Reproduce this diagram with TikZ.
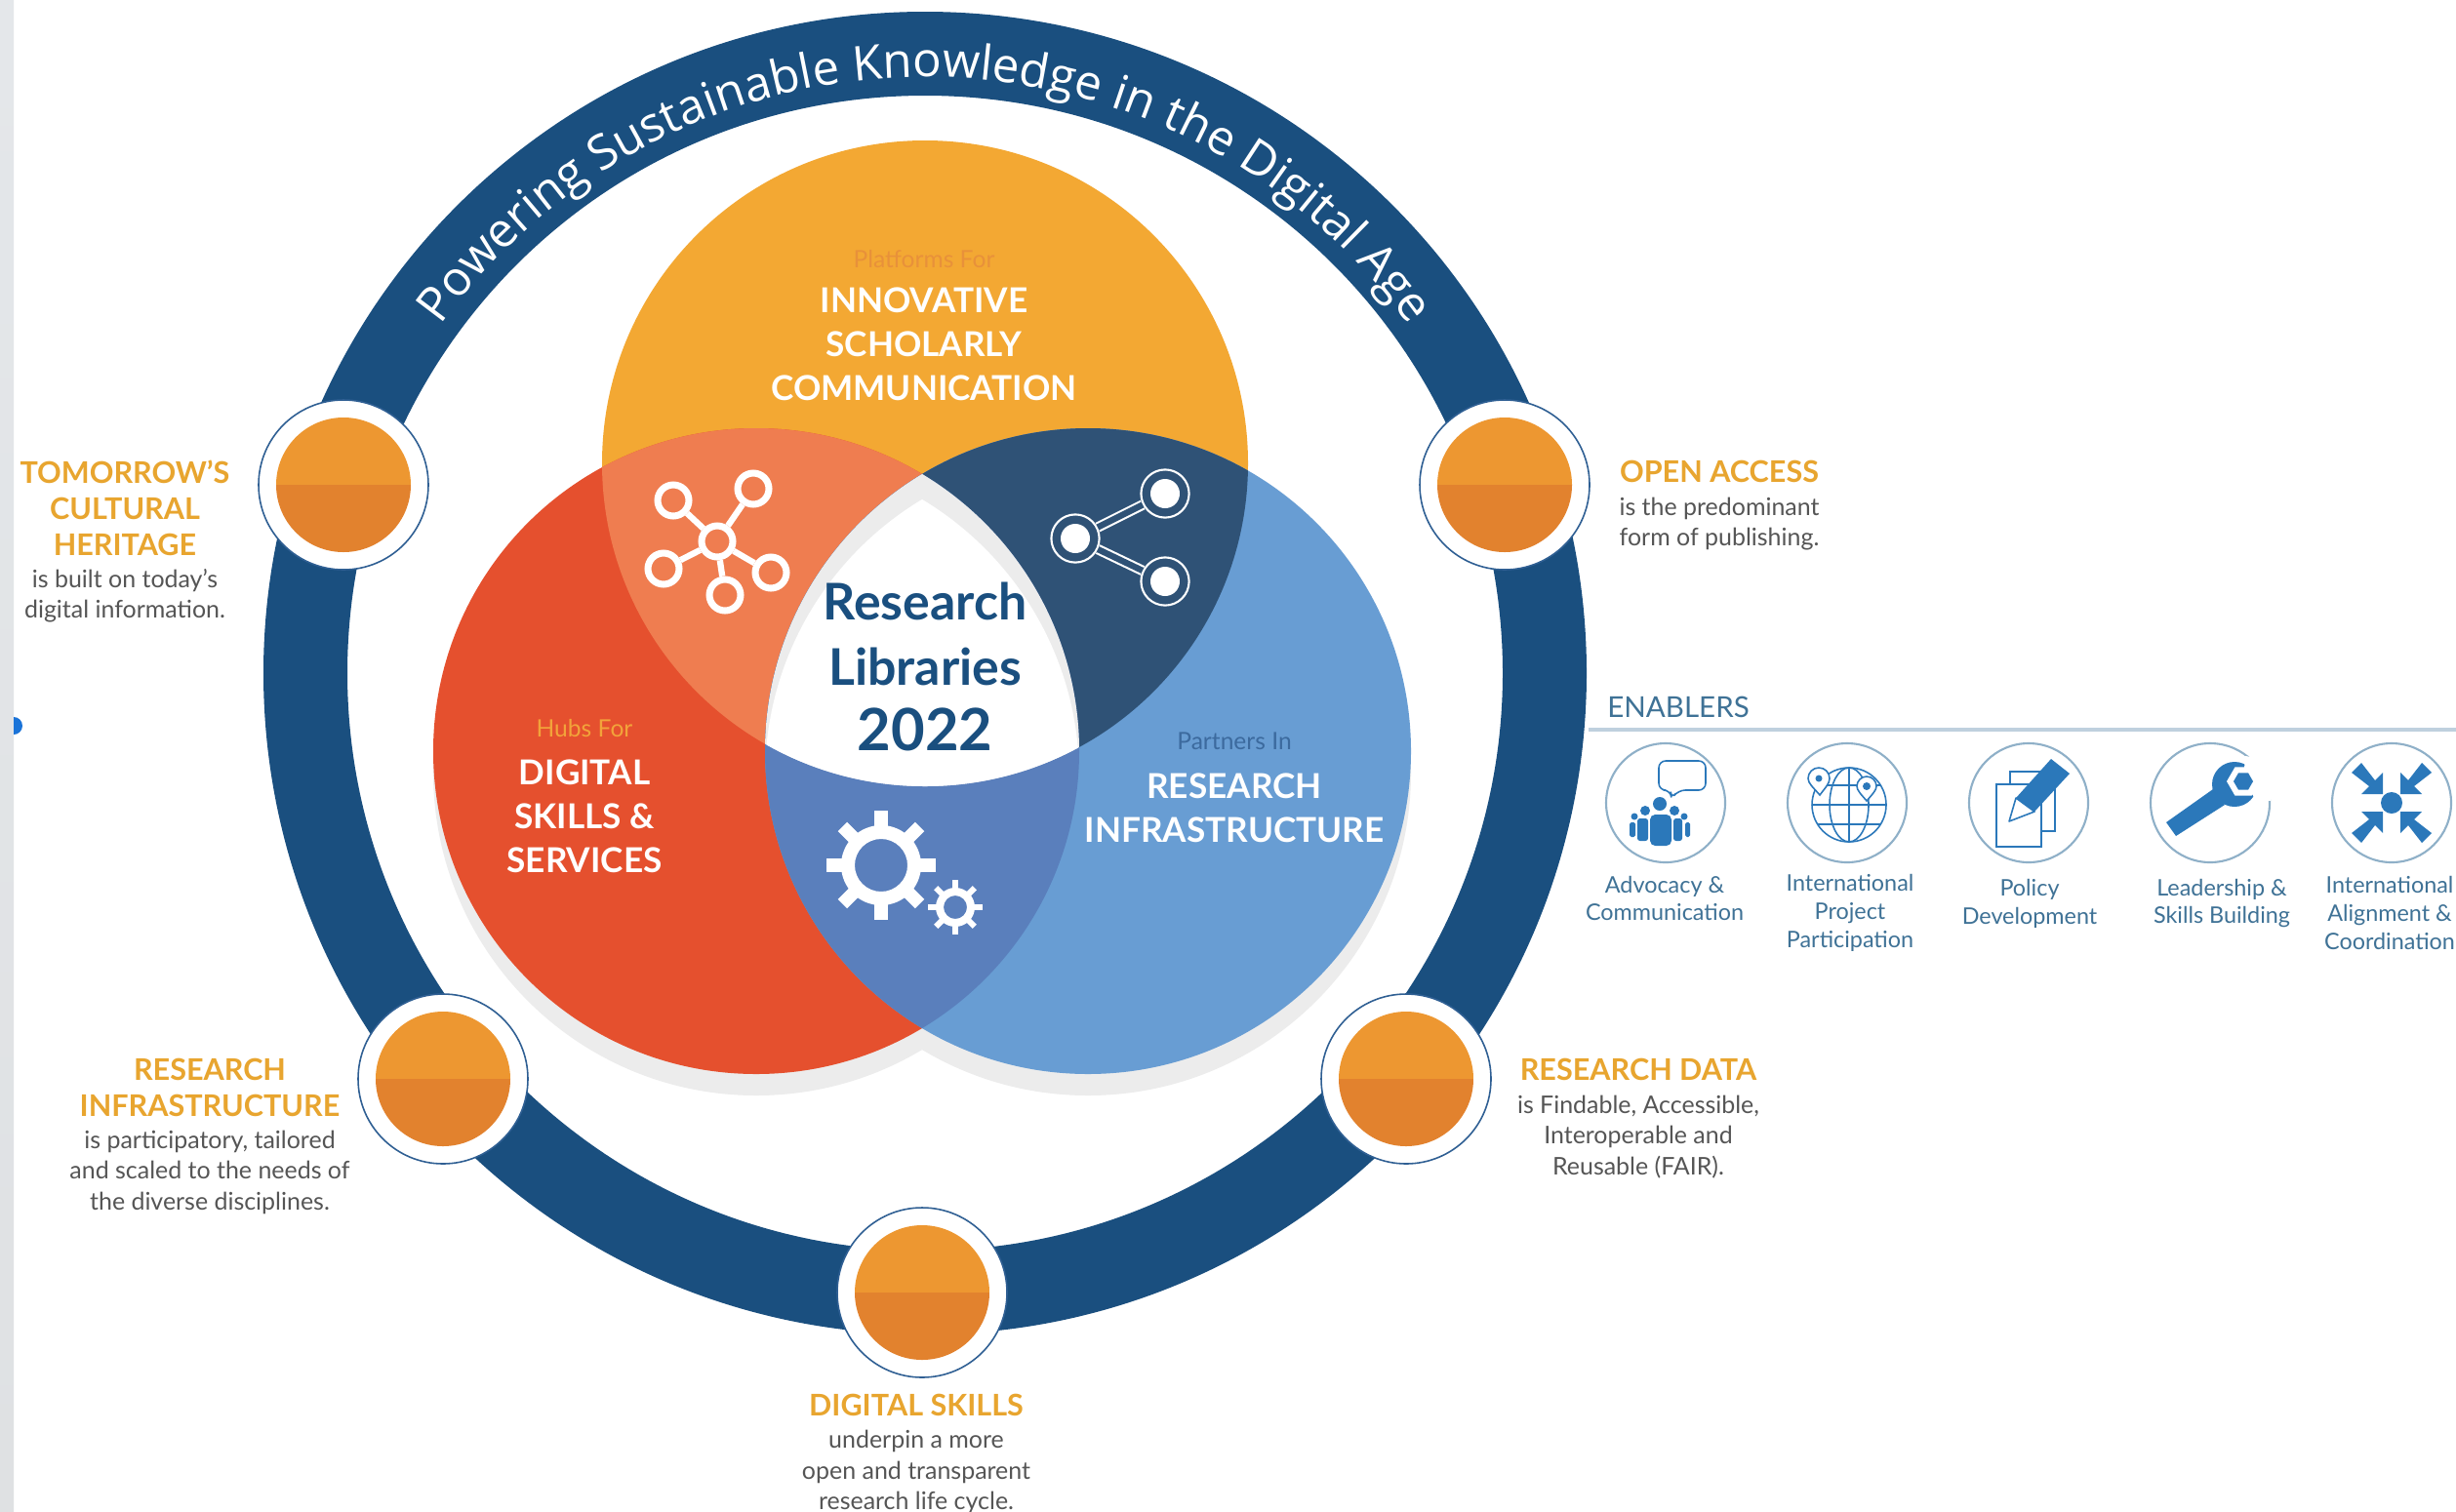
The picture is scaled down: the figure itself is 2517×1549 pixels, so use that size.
\documentclass[tikz,border=0pt]{standalone}
\usepackage{fontspec}
\setmainfont{Lato}
\newfontfamily\ringfam{Open Sans}
\usetikzlibrary{decorations.text,calc}
\definecolor{ringblue}{HTML}{1A4F7F}
\definecolor{vorange}{HTML}{F3A833}
\definecolor{vred}{HTML}{E5502E}
\definecolor{vblue}{HTML}{689DD3}
\definecolor{vor}{HTML}{EF7D50}
\definecolor{vob}{HTML}{2F5276}
\definecolor{vrb}{HTML}{5A7FBC}
\definecolor{medtop}{HTML}{ED9731}
\definecolor{medbot}{HTML}{E2822E}
\definecolor{medline}{HTML}{2F5F93}
\definecolor{ttlc}{HTML}{E8A52F}
\definecolor{bdyc}{HTML}{555555}
\definecolor{enbc}{HTML}{3F7296}
\definecolor{icon}{HTML}{2B78BA}
\definecolor{iconring}{HTML}{8FB0C8}
\definecolor{shadowc}{HTML}{ECECEC}
\definecolor{stripa}{HTML}{E4E7EA}
\definecolor{stripb}{HTML}{DFE1E3}
\definecolor{dotc}{HTML}{1A73D8}
\definecolor{plat}{HTML}{E8913A}
\definecolor{hubs}{HTML}{F2A33A}
\definecolor{part}{HTML}{3C6A9E}
\definecolor{enrule}{HTML}{BFD0DE}
\newcommand{\ttl}{\fontsize{17.4}{17.8}\selectfont\bfseries\color{ttlc}}
\newcommand{\bdy}{\fontsize{14.2}{17.8}\selectfont\mdseries\color{bdyc}}
\newcommand{\vbig}{\fontsize{20}{25.6}\selectfont\bfseries\color{white}}
\newcommand{\vsm}{\fontsize{14}{25.6}\selectfont}
\newcommand{\enb}{\fontsize{13.3}{16.4}\selectfont}
\tikzset{
  label/.style={inner sep=0pt,outer sep=0pt,align=center,anchor=north,font=\fontsize{12}{17.8}\selectfont},
  vlabel/.style={inner sep=0pt,outer sep=0pt,align=center,anchor=north,font=\fontsize{12}{25.6}\selectfont},
  enabler/.style={inner sep=0pt,outer sep=0pt,align=center,anchor=center,text=enbc,font=\enb},
  netnode/.style={circle,draw=white,line width=4pt,inner sep=0pt,minimum size=18.2pt},
  netline/.style={white,line width=3.6pt},
  sharenode/.style={circle,draw=white,fill=vob,line width=1.2pt,inner sep=0pt,minimum size=28pt},
  shareline/.style={white,line width=1.2pt,double=vob,double distance=3.6pt},
  ringicon/.style={draw=iconring,line width=1.2pt,fill=white},
  iconline/.style={draw=icon,line width=0.9pt}
}
\newcommand{\medal}[1]{%
  \fill[white,draw=medline,line width=0.9pt] (#1) circle[radius=87];
  \begin{scope}\clip (#1) circle[radius=69];
    \fill[medtop] ($(#1)+(-70,-70)$) rectangle ($(#1)+(70,0)$);
    \fill[medbot] ($(#1)+(-70,0)$) rectangle ($(#1)+(70,70)$);
  \end{scope}}
\begin{document}
\begin{tikzpicture}[x=0.02cm,y=-0.02cm]
\useasboundingbox (0,0) rectangle (2517,1549);
\fill[white] (0,0) rectangle (2517,1549);
% screen strip
\shade[top color=stripa,bottom color=stripb] (0,0) rectangle (14,1549);
\fill[dotc] (14,735) arc[start angle=-90,end angle=90,radius=9] -- cycle;
% ring
\coordinate (c) at (948,690);
\fill[ringblue,even odd rule] (c) circle[radius=678] (c) circle[radius=592];
\path[decorate,decoration={text along path,text align=center,
  text={|\color{white}\ringfam\fontsize{28}{32}\selectfont|Powering Sustainable Knowledge in the Digital Age}}]
  (c) ++(216:611) arc[start angle=216,end angle=324,radius=611];
% venn
\coordinate (O) at (948,475);
\coordinate (R) at (775,770);
\coordinate (B) at (1115,770);
\fill[shadowc] ($(R)+(0,22)$) circle[radius=331];
\fill[shadowc] ($(B)+(0,22)$) circle[radius=331];
\fill[vorange] (O) circle[radius=331];
\fill[vred] (R) circle[radius=331];
\fill[vblue] (B) circle[radius=331];
\begin{scope}\clip (O) circle[radius=331]; \fill[vor] (R) circle[radius=331];\end{scope}
\begin{scope}\clip (O) circle[radius=331]; \fill[vob] (B) circle[radius=331];\end{scope}
\begin{scope}\clip (R) circle[radius=331]; \fill[vrb] (B) circle[radius=331];\end{scope}
\begin{scope}
  \clip (O) circle[radius=331];
  \clip (R) circle[radius=331];
  \clip (B) circle[radius=331];
  \fill[shadowc] (400,300) rectangle (1500,1000);
  \clip ($(R)+(0,26)$) circle[radius=331];
  \clip ($(B)+(0,26)$) circle[radius=331];
  \fill[white] (400,300) rectangle (1500,1000);
\end{scope}
% network icon
\node[netnode] (hub) at (735,555) {};
\node[netnode] (n1) at (690,513) {};
\node[netnode] (n2) at (772,501) {};
\node[netnode] (n3) at (680,583) {};
\node[netnode] (n4) at (790,587) {};
\node[netnode] (n5) at (743,610) {};
\foreach \n in {n1,n2,n3,n4,n5}{\draw[netline] (hub) -- (\n);}
% share icon
\node[sharenode] (s0) at (1102,552) {};
\node[sharenode] (s1) at (1194,506) {};
\node[sharenode] (s2) at (1194,596) {};
\draw[shareline] (s0) -- (s1);
\draw[shareline] (s0) -- (s2);
\foreach \n in {s0,s1,s2}{\fill[white] (\n.center) circle[radius=15];}
% gears
\foreach \a in {0,45,...,315}{\draw[white,line width=7.6pt] (903,887) ++(\a:30) -- ++(\a:26);}
\fill[white,even odd rule] (903,887) circle[radius=41] (903,887) circle[radius=27];
\foreach \a in {0,45,...,315}{\draw[white,line width=3.4pt] (979,930) ++(\a:15) -- ++(\a:13);}
\fill[white,even odd rule] (979,930) circle[radius=20] (979,930) circle[radius=12];
% medallions
\medal{352,497}
\medal{1542,497}
\medal{454,1106}
\medal{1441,1106}
\medal{945,1325}
% labels
\node[label] (lab1) at (128,472) {\ttl TOMORROW'S\\[3.2pt]\ttl CULTURAL\\[3.2pt]\ttl HERITAGE\\[1.0pt]\bdy is built on today's\\\bdy digital information.};
\node[label] (lab2) at (1762,472) {\ttl OPEN ACCESS\\[1.6pt]\bdy is the predominant\\\bdy form of publishing.};
\node[label] (lab3) at (1679,1085) {\ttl RESEARCH DATA\\[1.6pt]\bdy is Findable, Accessible,\\\bdy Interoperable and\\\bdy Reusable (FAIR).};
\node[label] (lab4) at (215,1085) {\ttl RESEARCH\\[3.2pt]\ttl INFRASTRUCTURE\\[1.2pt]\bdy is participatory, tailored\\\bdy and scaled to the needs of\\\bdy the diverse disciplines.};
\node[label] (lab5) at (939,1429) {\ttl DIGITAL SKILLS\\[1.2pt]\bdy underpin a more\\\bdy open and transparent\\\bdy research life cycle.};
% venn text
\node[vlabel] (v1) at (947,256) {\vsm\color{plat}Platforms For\\[0.7pt]\vbig INNOVATIVE\\\vbig SCHOLARLY\\\vbig COMMUNICATION};
\node[vlabel] (v2) at (599,737) {\vsm\color{hubs}Hubs For\\[2.7pt]\vbig DIGITAL\\\vbig SKILLS \&\\\vbig SERVICES};
\node[vlabel] (v3) at (1265,751) {\vsm\color{part}Partners In\\[2.7pt]\vbig RESEARCH\\\vbig INFRASTRUCTURE};
\node[label,text=ringblue,font=\fontsize{29.5}{38}\selectfont\bfseries] (ctr) at (948,597) {Research\\Libraries\\{\fontsize{34}{38}\selectfont 2022}};
% enablers
\node[inner sep=0pt,anchor=west,text=enbc,font=\fontsize{16.8}{20}\selectfont] (enh) at (1647,725) {ENABLERS};
\coordinate (elA) at (1628,748);
\coordinate (elB) at (2517,748);
\draw[enrule,line width=1.8pt] (elA) -- (elB);
\foreach \x in {1707,1893,2079,2265,2451}{\fill[ringicon] (\x,823) circle[radius=61];}
% advocacy
\begin{scope}[shift={(1707,823)}]
  \draw[iconline,rounded corners=4pt,line join=round] (-7,-13) -- (-7,-43) -- (41,-43) -- (41,-13) -- (13,-13) -- (6,-4) -- (5,-13) -- cycle;
  \fill[icon] (-6,1) circle[radius=7];
  \fill[icon,rounded corners=3pt] (-16,44) -- (-16,12) -- (6,12) -- (6,44) -- cycle;
  \fill[icon] (-21,8) circle[radius=5];
  \fill[icon] (9,8) circle[radius=5];
  \fill[icon,rounded corners=1.5pt] (-29,39) -- (-29,16) -- (-18,16) -- (-18,39) -- cycle;
  \fill[icon,rounded corners=1.5pt] (8,39) -- (8,16) -- (17,16) -- (17,39) -- cycle;
  \fill[icon] (-32,14) circle[radius=3.5];
  \fill[icon] (19,14) circle[radius=3.5];
  \fill[icon,rounded corners=1pt] (-37,35) -- (-37,20) -- (-31,20) -- (-31,35) -- cycle;
  \fill[icon,rounded corners=1pt] (20,35) -- (20,20) -- (25,20) -- (25,35) -- cycle;
\end{scope}
% globe
\begin{scope}[shift={(1893,823)}]
  \draw[iconline] (2,2) circle[radius=38];
  \draw[iconline] (2,2) ellipse[x radius=20,y radius=38];
  \draw[iconline] (2,-36) -- (2,40);
  \draw[iconline] (-36,2) -- (40,2);
  \draw[iconline] (-30,-18) -- (34,-18);
  \draw[iconline] (-30,22) -- (34,22);
  \draw[iconline,fill=white] (-28,-8) .. controls (-35,-16) and (-40,-20) .. (-40,-25) arc[start angle=180,end angle=360,radius=11] .. controls (-18,-20) and (-22,-16) .. (-28,-8) -- cycle;
  \fill[icon] (-29,-25) circle[radius=3.5];
  \draw[iconline,fill=white] (20,-2) .. controls (14,-9) and (10,-13) .. (10,-17) arc[start angle=180,end angle=360,radius=10] .. controls (30,-13) and (26,-9) .. (20,-2) -- cycle;
  \fill[icon] (20,-17) circle[radius=4];
\end{scope}
% policy
\begin{scope}[shift={(2079,823)}]
  \draw[iconline,fill=white] (-19,-32) rectangle (27,29);
  \draw[iconline,fill=white] (-33,-19) rectangle (13,45);
  \fill[white] (-22,24) -- (-17,-10) -- (12,9) -- cycle;
  \fill[icon] (23,-45) -- (42,-30) -- (6,9) -- (-13,-5) -- cycle;
  \draw[iconline,fill=white,line join=round] (-13,-5) -- (6,9) -- (-20,19) -- cycle;
\end{scope}
% wrench
\begin{scope}[shift={(2265,823)}]
  \fill[icon] (-45,20) -- (-35,34) -- (15,2) -- (3,-14) -- cycle;
  \fill[icon] (25,-19) circle[radius=23];
  \fill[white] (34,-22) -- (36,-48) -- (62,-44) -- (62,-2) -- (47,-3) -- cycle;
  \fill[white] (34,-22) ++(0:17) \foreach \a in {60,120,...,300}{ -- ({34+17*cos(\a)},{-22+17*sin(\a)}) } -- cycle;
  \fill[icon] (34,-22) ++(0:10) \foreach \a in {60,120,...,300}{ -- ({34+10*cos(\a)},{-22+10*sin(\a)}) } -- cycle;
\end{scope}
% alignment
\begin{scope}[shift={(2451,823)}]
  \fill[icon] (0,0) circle[radius=11];
  \foreach \sx/\sy in {1/1,-1/1,1/-1,-1/-1}{
    \fill[icon] ({\sx*-9},{\sy*-9}) -- ({\sx*-31},{\sy*-9}) -- ({\sx*-23},{\sy*-17}) -- ({\sx*-41},{\sy*-31}) -- ({\sx*-31},{\sy*-41}) -- ({\sx*-17},{\sy*-23}) -- ({\sx*-9},{\sy*-31}) -- cycle;
  }
\end{scope}
\node[enabler] (e1) at (1706,921) {Advocacy \&\\Communication};
\node[enabler] (e2) at (1896,936) {International\\Project\\Participation};
\node[enabler] (e3) at (2080,926) {Policy\\Development};
\node[enabler] (e4) at (2277,926) {Leadership \&\\Skills Building};
\node[enabler] (e5) at (2449,936) {International\\Alignment \&\\Coordination};
\end{tikzpicture}
\end{document}
